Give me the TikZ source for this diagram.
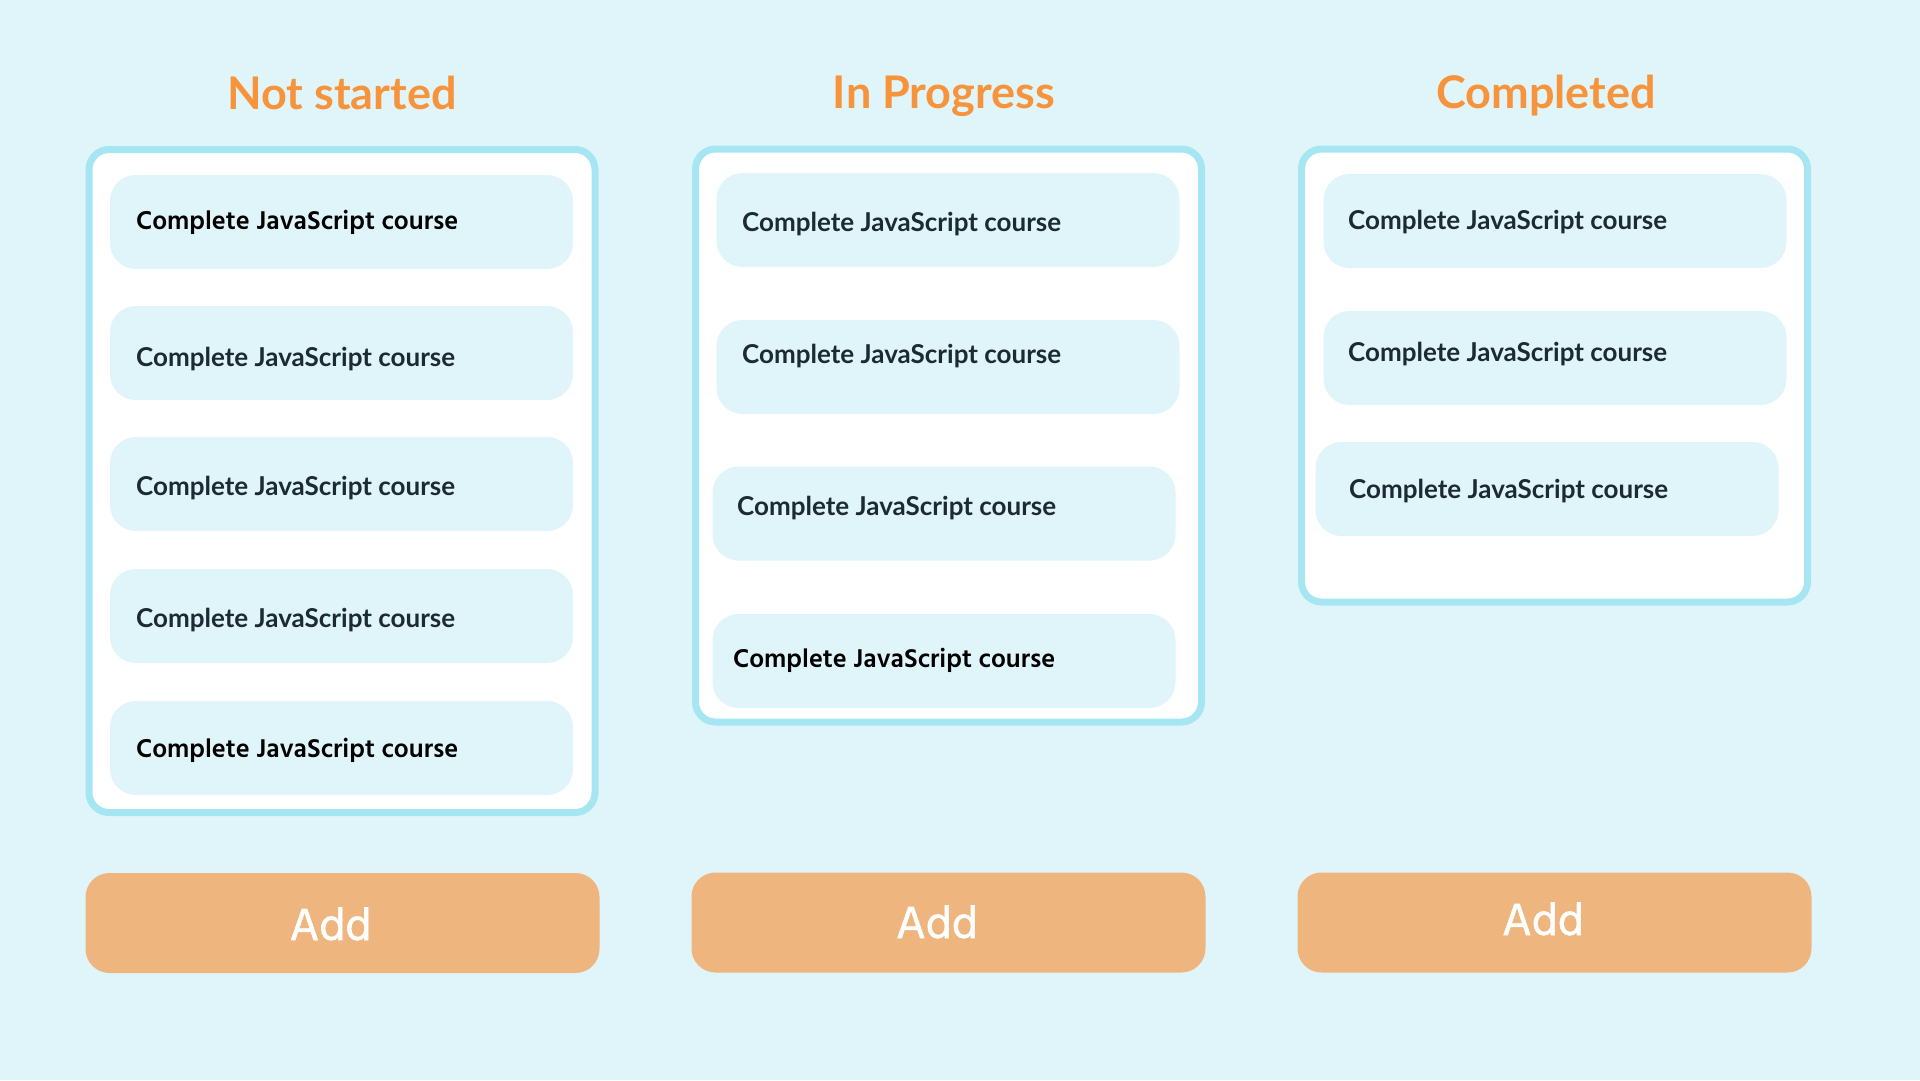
\documentclass[tikz,border=0pt]{standalone}
\usepackage{fontspec}
\usepackage{xcolor}
\usepackage{tikz}
\newfontfamily\latofont{Lato}
\newfontfamily\hindfont{Hind Madurai}
\newfontfamily\addfont[FakeBold=1.2]{Hind Madurai}
\definecolor{bgcolor}{HTML}{E0F5FA}
\definecolor{bordercolor}{HTML}{A6E6F3}
\definecolor{cardcolor}{HTML}{E0F5FA}
\definecolor{titlecolor}{HTML}{F7933A}
\definecolor{addcolor}{HTML}{EEB67E}
\definecolor{cardtextcolor}{HTML}{1C2A33}
\tikzset{
  panelbox/.style={draw=bordercolor, line width=7pt, fill=white, rounded corners=20pt, minimum width=506pt, inner sep=0pt},
  cardbox/.style={fill=cardcolor, rounded corners=26pt, minimum width=463pt, minimum height=94pt, inner sep=0pt},
  cardtext/.style={anchor=base west, inner sep=0pt, text=cardtextcolor, font=\latofont\bfseries\fontsize{26}{31}\selectfont},
  boldtext/.style={anchor=base west, inner sep=0pt, text=black, font=\hindfont\bfseries\fontsize{26.4}{31}\selectfont},
  coltitle/.style={anchor=base, inner sep=0pt, text=titlecolor, font=\latofont\bfseries\fontsize{45}{54}\selectfont},
  addbox/.style={fill=addcolor, rounded corners=24pt, minimum width=514pt, minimum height=100pt, inner sep=0pt},
  addtext/.style={anchor=base, inner sep=0pt, text=white, font=\addfont\fontsize{46}{55}\selectfont}
}

\begin{document}
\begin{tikzpicture}[x=1pt, y=-1pt]%
\fill[bgcolor] (0, 0) rectangle (1920, 1080);%
\useasboundingbox (0, 0) rectangle (1920, 1080);%
% column titles
\node[coltitle] (nstitle) at (342, 109) {Not started};%
\node[coltitle] (iptitle) at (944, 108) {In Progress};%
\node[coltitle] (cptitle) at (1546, 108) {Completed};%
% panels
\node[panelbox, minimum height=663pt] (nspanel) at (342, 481) {};%
\node[panelbox, minimum height=573pt] (ippanel) at (948.5, 435.5) {};%
\node[panelbox, minimum height=453pt] (cppanel) at (1554.5, 375.5) {};%
% not started
\node[cardbox] (ns1) at (341.5, 222) {};%
\node[cardbox] (ns2) at (341.5, 353) {};%
\node[cardbox] (ns3) at (341.5, 484) {};%
\node[cardbox] (ns4) at (341.5, 616) {};%
\node[cardbox] (ns5) at (341.5, 748) {};%
\node[boldtext] (ns1t) at (136, 229.5) {Complete JavaScript course};%
\node[cardtext] (ns2t) at (136, 366) {Complete JavaScript course};%
\node[cardtext] (ns3t) at (136, 495) {Complete JavaScript course};%
\node[cardtext] (ns4t) at (136, 627) {Complete JavaScript course};%
\node[boldtext] (ns5t) at (136, 757) {Complete JavaScript course};%
% in progress
\node[cardbox] (ip1) at (948, 220) {};%
\node[cardbox] (ip2) at (948, 367) {};%
\node[cardbox] (ip3) at (944, 513.5) {};%
\node[cardbox] (ip4) at (944, 661) {};%
\node[cardtext] (ip1t) at (742, 231) {Complete JavaScript course};%
\node[cardtext] (ip2t) at (742, 363) {Complete JavaScript course};%
\node[cardtext] (ip3t) at (737, 515) {Complete JavaScript course};%
\node[boldtext] (ip4t) at (733, 667) {Complete JavaScript course};%
% completed
\node[cardbox] (cp1) at (1555, 221) {};%
\node[cardbox] (cp2) at (1555, 358) {};%
\node[cardbox] (cp3) at (1547, 489) {};%
\node[cardtext] (cp1t) at (1348, 229) {Complete JavaScript course};%
\node[cardtext] (cp2t) at (1348, 361) {Complete JavaScript course};%
\node[cardtext] (cp3t) at (1349, 498) {Complete JavaScript course};%
% add buttons
\node[addbox] (nsadd) at (342.5, 923) {};%
\node[addbox] (ipadd) at (948.5, 922.5) {};%
\node[addbox] (cpadd) at (1554.5, 922.5) {};%
\node[addtext] (nsaddt) at (330.5, 940) {Add};%
\node[addtext] (ipaddt) at (937, 938) {Add};%
\node[addtext] (cpaddt) at (1543, 935) {Add};%
\end{tikzpicture}
\end{document}
